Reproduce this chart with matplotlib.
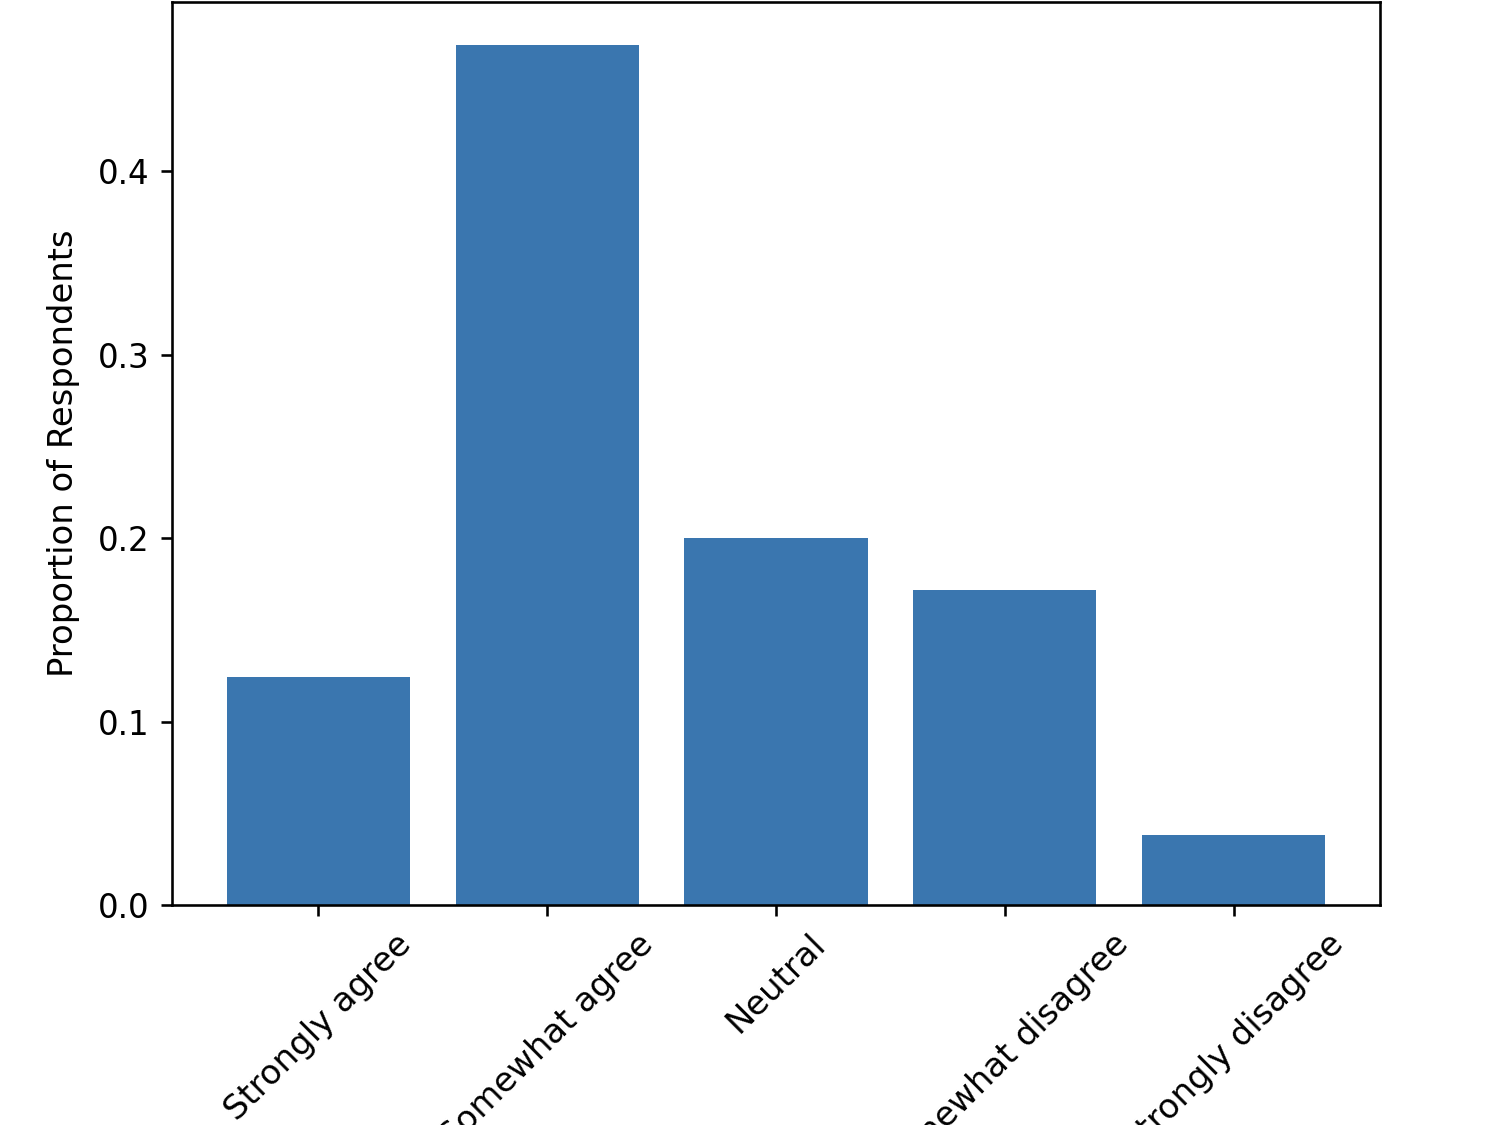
import matplotlib
matplotlib.use("Agg")
import matplotlib.pyplot as plt

# Survey answers and the share of respondents giving each one
categories = ["Strongly agree", "Somewhat agree", "Neutral", "Somewhat disagree", "Strongly disagree"]
proportions = [0.1243, 0.4687, 0.2000, 0.1717, 0.0381]

fig = plt.figure(figsize=(6.4, 4.8), dpi=234.375)
ax = fig.add_axes([172 / 1500, 1 - 905 / 1125, (1380 - 172) / 1500, (905 - 2) / 1125])

ax.bar(categories, proportions, color="#3a76af")
ax.set_ylabel("Proportion of Respondents", fontsize=10.4, labelpad=5.5)
ax.tick_params(axis="x", labelrotation=45, labelsize=10.4)

fig.savefig("out.png", dpi=234.375)
